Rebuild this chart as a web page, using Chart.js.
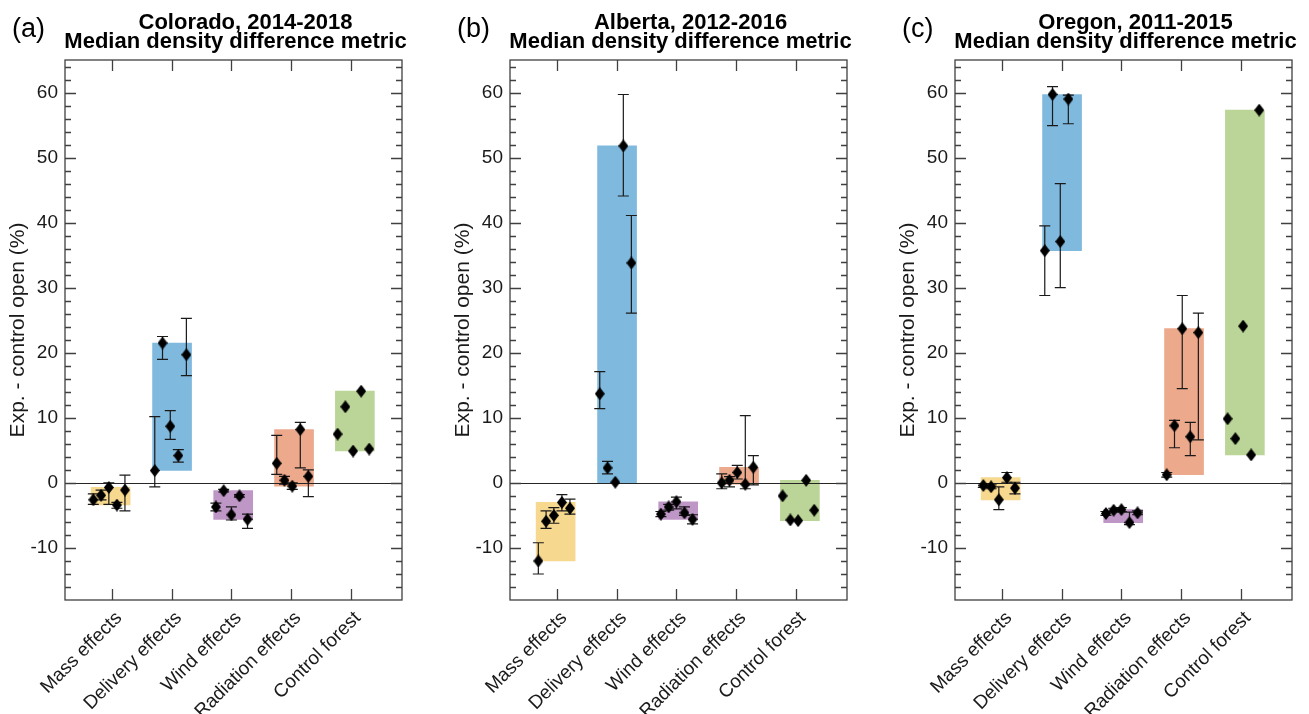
<!DOCTYPE html>
<html>
<head>
<meta charset="utf-8">
<title>Median density difference metric</title>
<script src="https://cdn.jsdelivr.net/npm/chart.js@4.4.1/dist/chart.umd.min.js"></script>
<style>
  html, body { margin: 0; padding: 0; background: #fff; overflow: hidden; }
  .panel { position: absolute; top: 0; width: 419px; height: 714px; }
</style>
</head>
<body>
<div class="panel" style="left:0"><canvas id="panelA" width="419" height="714"></canvas></div>
<div class="panel" style="left:445px"><canvas id="panelB" width="419" height="714"></canvas></div>
<div class="panel" style="left:890px"><canvas id="panelC" width="419" height="714"></canvas></div>
<script>
/* ==========================================================
   Exp. - control open, three sites, boxes = range of medians
========================================================== */

/* ---------- shared labels ---------- */
const CATEGORIES = ['Mass effects', 'Delivery effects', 'Wind effects', 'Radiation effects', 'Control forest'];
const Y_TICKS    = [-10, 0, 10, 20, 30, 40, 50, 60];
const SITES      = ['Colorado, 2014-2018', 'Alberta, 2012-2016', 'Oregon, 2011-2015'];
const SUBTITLE   = 'Median density difference metric';
const LETTERS    = ['(a)', '(b)', '(c)'];

/* ---------- (a) Colorado: one row per category ---------- */
const coPts   = [[-2.6, -1.9, -0.7, -3.4, -1.1], [1.9, 21.5, 8.7, 4.2, 19.7], [-3.7, -1.2, -4.9, -2.0, -5.6],
                 [3.0, 0.4, -0.5, 8.2, 1.0], [7.5, 11.7, 4.9, 14.1, 5.2]];
const coErrLo = [[-3.3, -2.6, -3.3, -3.9, -4.3], [-0.6, 19.0, 6.7, 3.2, 16.5], [-4.3, -1.4, -5.7, -2.2, -7.0],
                 [1.3, -0.2, -1.0, 2.3, -2.1], null];
const coErrHi = [[-1.7, -1.1, 0.0, -3.0, 1.2], [10.2, 22.5, 11.1, 5.1, 25.3], [-3.1, -1.0, -3.7, -1.8, -4.8],
                 [7.3, 1.0, 0.0, 9.3, 2.0], null];
const coBoxLo = [-3.4, 1.9, -5.6, -0.5, 4.9];
const coBoxHi = [-0.7, 21.5, -1.2, 8.2, 14.1];

/* ---------- (b) Alberta ---------- */
const abPts   = [[-12.0, -5.9, -5.0, -3.0, -3.9], [13.7, 2.3, 0.1, 51.8, 33.8], [-4.8, -3.7, -2.9, -4.6, -5.6],
                 [0.0, 0.4, 1.6, -0.2, 2.4], [-2.0, -5.7, -5.8, 0.4, -4.2]];
const abErrLo = [[-14.0, -7.0, -6.2, -4.3, -4.8], [11.4, 1.4, null, 44.1, 26.1], [-5.2, -4.2, -4.0, -5.0, -6.3],
                 [-0.9, -0.6, 0.6, -0.9, -0.3], null];
const abErrHi = [[-9.2, -4.3, -3.8, -1.8, -2.5], [17.1, 3.3, null, 59.7, 41.1], [-4.4, -3.3, -2.2, -3.7, -4.9],
                 [1.4, 0.95, 2.7, 10.35, 4.2], null];
const abBoxLo = [-12.0, 0.0, -5.6, -0.2, -5.8];
const abBoxHi = [-3.0, 51.8, -2.9, 2.4, 0.4];

/* ---------- (c) Oregon ---------- */
const orPts   = [[-0.4, -0.6, -2.6, 0.8, -0.8], [35.7, 59.7, 37.1, 59.0], [-4.7, -4.2, -4.1, -6.1, -4.6],
                 [1.25, 8.8, 23.7, 7.1, 23.1], [9.85, 6.8, 24.1, 4.3, 57.3]];
const orErrLo = [[-0.7, -0.9, -4.1, 0.1, -1.7], [28.8, 54.9, 30.0, 55.2], [-5.0, -4.5, -4.4, -6.4, -4.9],
                 [0.9, 5.4, 14.5, 4.2, 6.6], null];
const orErrHi = [[-0.1, -0.3, -0.6, 1.6, 0.1], [39.5, 60.9, 46.0, 59.6], [-4.4, -3.9, -3.8, -4.5, -4.3],
                 [1.6, 9.6, 28.8, 9.3, 26.1], null];
const orBoxLo = [-2.6, 35.7, -6.1, 1.25, 4.3];
const orBoxHi = [0.8, 59.7, -4.1, 23.7, 57.3];

/* ---------- look ---------- */
const FONT   = "'Liberation Sans', Arial, Helvetica, sans-serif";
const INK    = '#1a1a1a';
const AXIS   = '#404040';
const FILLS  = ['rgb(246,216,143)', 'rgb(128,185,222)', 'rgb(191,151,198)', 'rgb(236,169,140)', 'rgb(187,213,152)'];
const BOX_SHIFT = [-0.025, 0.005, 0.03, 0.05, 0.07];     // box centre vs tick
const JITTER    = [-0.29, -0.16, -0.03, 0.105, 0.24];    // marker offsets inside a box

Chart.defaults.font.family = FONT;
Chart.defaults.color = INK;

/* ---------- diamond marker ---------- */
const diamond = (() => {
  const c = document.createElement('canvas');
  c.width = 10; c.height = 13;
  const g = c.getContext('2d');
  g.fillStyle = '#000';
  g.beginPath();
  g.moveTo(5, 0); g.lineTo(10, 6.5); g.lineTo(5, 13); g.lineTo(0, 6.5);
  g.closePath(); g.fill();
  return c;
})();

/* ---------- frame, inward ticks, zero line, error bars, titles ---------- */
const matlabAxes = {
  id: 'matlabAxes',
  afterDatasetDraw (chart, args) {
    if (args.index !== 0) return;                       // right after the boxes
    const { ctx, chartArea: a, scales: { x, y } } = chart;
    ctx.save();
    // zero line
    const y0 = Math.round(y.getPixelForValue(0)) + 0.5;
    ctx.strokeStyle = '#262626'; ctx.lineWidth = 1.2;
    ctx.beginPath(); ctx.moveTo(a.left, y0); ctx.lineTo(a.right, y0); ctx.stroke();
    // error bars
    ctx.strokeStyle = INK; ctx.lineWidth = 1.2;
    chart.data.datasets[1].data.forEach(p => {
      if (p.lo == null || p.hi == null) return;
      const px = x.getPixelForValue(p.x);
      const yt = y.getPixelForValue(p.hi), yb = y.getPixelForValue(p.lo);
      ctx.beginPath();
      ctx.moveTo(px, yt); ctx.lineTo(px, yb);
      ctx.moveTo(px - 5.5, yt); ctx.lineTo(px + 5.5, yt);
      ctx.moveTo(px - 5.5, yb); ctx.lineTo(px + 5.5, yb);
      ctx.stroke();
    });
    ctx.restore();
  },
  afterDraw (chart) {
    const { ctx, chartArea: a, scales: { x, y } } = chart;
    const idx = chart.options.plugins.matlabAxes.panel;
    ctx.save();
    ctx.strokeStyle = AXIS; ctx.lineWidth = 1.3;
    ctx.strokeRect(a.left, a.top, a.right - a.left, a.bottom - a.top);
    ctx.beginPath();
    for (let v = -16; v <= 64; v += 2) {
      const py = Math.round(y.getPixelForValue(v)) + 0.5;
      const len = v % 10 === 0 ? 11 : 6;
      ctx.moveTo(a.left, py);  ctx.lineTo(a.left + len, py);
      ctx.moveTo(a.right, py); ctx.lineTo(a.right - len, py);
    }
    CATEGORIES.forEach((c, i) => {
      const px = Math.round(x.getPixelForValue(i)) + 0.5;
      ctx.moveTo(px, a.top);    ctx.lineTo(px, a.top + 11);
      ctx.moveTo(px, a.bottom); ctx.lineTo(px, a.bottom - 11);
    });
    ctx.stroke();

    // titles
    const cx = (a.left + a.right) / 2;
    ctx.fillStyle = '#000';
    ctx.textAlign = 'center'; ctx.textBaseline = 'alphabetic';
    ctx.font = `bold 22px ${FONT}`;
    ctx.fillText(SITES[idx], cx + 12, 29);
    ctx.fillText(SUBTITLE, cx + 2, 48);
    ctx.textAlign = 'left';
    ctx.font = `27px ${FONT}`;
    ctx.fillText(LETTERS[idx], 12, 37);
    ctx.restore();
  }
};

/* ---------- one panel ---------- */
const buildPanel = (cid, idx, pts, errLo, errHi, boxLo, boxHi) => {
  const boxes = CATEGORIES.map((c, i) => ({ x: i + BOX_SHIFT[i], y: [boxLo[i], boxHi[i]] }));
  const marks = [];
  pts.forEach((row, i) => row.forEach((v, j) => marks.push({
    x: i + BOX_SHIFT[i] + JITTER[j], y: v,
    lo: errLo[i] ? errLo[i][j] : null,
    hi: errHi[i] ? errHi[i][j] : null
  })));

  return new Chart(document.getElementById(cid), {
    type: 'bar',
    data: {
      datasets: [
        { type: 'bar', data: boxes, backgroundColor: FILLS, borderWidth: 0,
          barThickness: 39, order: 2 },
        { type: 'scatter', data: marks, pointStyle: diamond, order: 1 }
      ]
    },
    options: {
      responsive: false,
      animation: false,
      events: [],
      layout: { padding: { top: 60, right: 17, left: 0, bottom: 0 } },
      plugins: {
        legend: { display: false },
        tooltip: { enabled: false },
        title: { display: false },
        matlabAxes: { panel: idx }
      },
      scales: {
        x: {
          type: 'linear', min: -0.79, max: 4.86, offset: false, bounds: 'ticks',
          grid: { display: false, drawTicks: false, offset: false }, border: { display: false },
          afterBuildTicks: s => { s.ticks = CATEGORIES.map((c, i) => ({ value: i })); },
          afterFit: s => { s.height = 114; },
          ticks: {
            autoSkip: false, minRotation: 45, maxRotation: 45, padding: 7, labelOffset: 7,
            font: { size: 19 }, color: INK,
            callback: v => CATEGORIES[v]
          }
        },
        y: {
          type: 'linear', min: -18, max: 65,
          grid: { display: false, drawTicks: false }, border: { display: false },
          afterBuildTicks: s => { s.ticks = Y_TICKS.map(v => ({ value: v })); },
          afterFit: s => { s.width = 65; },
          ticks: { padding: 7, font: { size: 19 }, color: INK },
          title: { display: true, text: 'Exp. - control open (%)', font: { size: 21 }, color: INK,
                   padding: { top: 6, bottom: 0 } }
        }
      }
    },
    plugins: [matlabAxes]
  });
};

buildPanel('panelA', 0, coPts, coErrLo, coErrHi, coBoxLo, coBoxHi);
buildPanel('panelB', 1, abPts, abErrLo, abErrHi, abBoxLo, abBoxHi);
buildPanel('panelC', 2, orPts, orErrLo, orErrHi, orBoxLo, orBoxHi);
</script>
</body>
</html>
